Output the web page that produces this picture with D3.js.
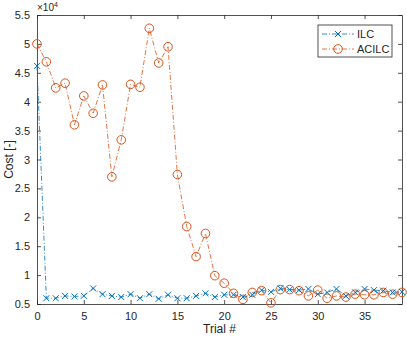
<!DOCTYPE html>
<html>
<head>
<meta charset="utf-8">
<script src="https://cdn.jsdelivr.net/npm/d3@7"></script>
<style>
  body { margin: 0; background: #fff; }
  text { font-family: "Liberation Sans", Arial, sans-serif; fill: #262626; }
</style>
</head>
<body>
<div id="chart"></div>
<script>
// trial numbers 0..39
const trials = d3.range(0, 40);

// cost values in units of 1e4
const ilc = [4.62, 0.60, 0.60, 0.64, 0.63, 0.64, 0.77, 0.67, 0.64, 0.62,
             0.67, 0.60, 0.67, 0.59, 0.66, 0.60, 0.60, 0.64, 0.685, 0.62,
             0.66, 0.66, 0.62, 0.66, 0.74, 0.71, 0.77, 0.75, 0.74, 0.76,
             0.67, 0.70, 0.76, 0.64, 0.70, 0.76, 0.74, 0.73, 0.70, 0.71];
const acilc = [5.00, 4.69, 4.24, 4.32, 3.60, 4.10, 3.80, 4.29, 2.70, 3.34,
               4.30, 4.25, 5.27, 4.67, 4.95, 2.74, 1.84, 1.32, 1.72, 0.99,
               0.86, 0.685, 0.58, 0.70, 0.73, 0.52, 0.75, 0.75, 0.73, 0.64,
               0.74, 0.60, 0.64, 0.62, 0.67, 0.66, 0.66, 0.70, 0.67, 0.70];

const xTicks = d3.range(0, 40, 5);
const yTicks = d3.range(0.5, 5.51, 0.5);
const seriesNames = ["ILC", "ACILC"];

const width = 407, height = 337;
const margin = {top: 15, right: 5, bottom: 33, left: 37};
const chartWidth = width - margin.left - margin.right;
const chartHeight = height - margin.top - margin.bottom;

const blue = "#0072BD", orange = "#D95319", axisCol = "#262626";
const dash = "5,2,1,2";

let svg = d3.select("#chart").append("svg")
    .attr("width", width)
    .attr("height", height);

let chartGroup = svg.append("g")
    .attr("transform", `translate(${margin.left}, ${margin.top})`);

let xScale = d3.scaleLinear().domain([0, 39]).range([0, chartWidth]);
let yScale = d3.scaleLinear().domain([0.5, 5.5]).range([chartHeight, 0]);

// axes (MATLAB style: ticks inside, box on)
const tickLen = 4;
function styleAxis(g) {
    g.selectAll("path").attr("stroke", axisCol).attr("stroke-width", 0.8);
    g.selectAll("line").attr("stroke", axisCol).attr("stroke-width", 0.8);
    g.selectAll("text").attr("font-size", "11px").style("fill", axisCol);
}

chartGroup.append("g")
    .attr("transform", `translate(0, ${chartHeight})`)
    .call(d3.axisBottom(xScale).tickValues(xTicks).tickSizeInner(-tickLen).tickSizeOuter(0).tickPadding(8))
    .call(styleAxis);

chartGroup.append("g")
    .call(d3.axisTop(xScale).tickValues(xTicks).tickSizeInner(-tickLen).tickSizeOuter(0).tickFormat(""))
    .call(styleAxis);

chartGroup.append("g")
    .call(d3.axisLeft(yScale).tickValues(yTicks).tickSizeInner(-tickLen).tickSizeOuter(0).tickPadding(7)
        .tickFormat(d3.format("~g")))
    .call(styleAxis);

chartGroup.append("g")
    .attr("transform", `translate(${chartWidth}, 0)`)
    .call(d3.axisRight(yScale).tickValues(yTicks).tickSizeInner(-tickLen).tickSizeOuter(0).tickFormat(""))
    .call(styleAxis);

// exponent label
let expo = chartGroup.append("text")
    .attr("x", 0)
    .attr("y", -4)
    .attr("font-size", "10px");
expo.append("tspan").text("\u00d710");
expo.append("tspan").attr("dy", -4).attr("font-size", "7px").text("4");

// lines
let line = d3.line().x((d, i) => xScale(trials[i])).y(d => yScale(d));

chartGroup.append("path")
    .datum(acilc)
    .attr("fill", "none")
    .attr("stroke", orange)
    .attr("stroke-width", 0.8)
    .attr("stroke-dasharray", dash)
    .attr("d", line);

chartGroup.append("path")
    .datum(ilc)
    .attr("fill", "none")
    .attr("stroke", blue)
    .attr("stroke-width", 0.8)
    .attr("stroke-dasharray", dash)
    .attr("d", line);

// markers
function cross(g, r, col) {
    g.append("path")
        .attr("d", `M${-r},${-r}L${r},${r}M${-r},${r}L${r},${-r}`)
        .attr("stroke", col)
        .attr("stroke-width", 1);
}

chartGroup.selectAll("circle.ac")
    .data(acilc)
    .enter()
    .append("circle")
    .attr("class", "ac")
    .attr("cx", (d, i) => xScale(trials[i]))
    .attr("cy", d => yScale(d))
    .attr("r", 4.3)
    .attr("fill", "none")
    .attr("stroke", orange)
    .attr("stroke-width", 1);

chartGroup.selectAll("g.ilc")
    .data(ilc)
    .enter()
    .append("g")
    .attr("class", "ilc")
    .attr("transform", (d, i) => `translate(${xScale(trials[i])}, ${yScale(d)})`)
    .each(function() { cross(d3.select(this), 3, blue); });

// legend
let legend = svg.append("g").attr("transform", "translate(318, 25)");
legend.append("rect")
    .attr("width", 74).attr("height", 32)
    .attr("fill", "#fff").attr("stroke", axisCol).attr("stroke-width", 0.8);

seriesNames.forEach((name, i) => {
    let col = i === 0 ? blue : orange;
    let y = 9 + i * 15;
    legend.append("line")
        .attr("x1", 4).attr("x2", 36).attr("y1", y).attr("y2", y)
        .attr("stroke", col).attr("stroke-width", 0.8).attr("stroke-dasharray", dash);
    if (i === 0) {
        cross(legend.append("g").attr("transform", `translate(20, ${y})`), 3, col);
    } else {
        legend.append("circle").attr("cx", 20).attr("cy", y).attr("r", 4.3)
            .attr("fill", "none").attr("stroke", col).attr("stroke-width", 1);
    }
    legend.append("text")
        .attr("x", 39).attr("y", y + 4)
        .attr("font-size", "11px")
        .text(name);
});

// axis labels
chartGroup.append("text")
    .attr("transform", "rotate(-90)")
    .attr("x", -chartHeight / 2)
    .attr("y", -24)
    .attr("text-anchor", "middle")
    .attr("font-size", "12px")
    .text("Cost [-]");

chartGroup.append("text")
    .attr("x", chartWidth / 2)
    .attr("y", chartHeight + 29)
    .attr("text-anchor", "middle")
    .attr("font-size", "12px")
    .text("Trial #");
</script>
</body>
</html>
